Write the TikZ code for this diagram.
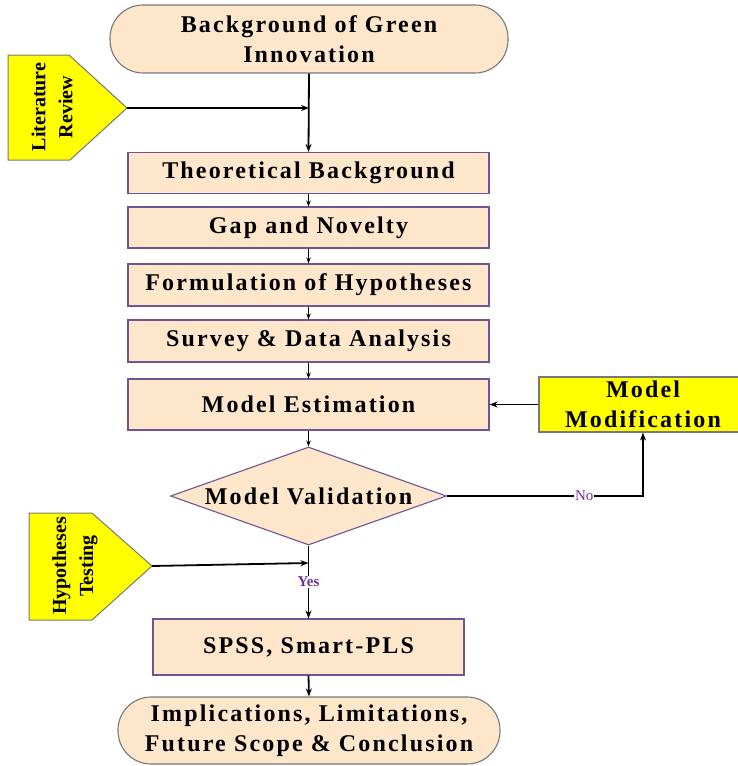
\documentclass[tikz,border=0pt]{standalone}
\usepackage{fontspec}
\setmainfont{Liberation Serif}
\newfontfamily\spacedfont[LetterSpace=9]{Liberation Serif}
\usetikzlibrary{arrows.meta,shapes.geometric}
\definecolor{peach}{RGB}{253,230,202}
\definecolor{boxline}{RGB}{112,84,150}
\definecolor{termline}{RGB}{120,120,120}
\definecolor{yel}{RGB}{255,255,0}
\definecolor{lblpurple}{RGB}{112,48,160}
\tikzset{
  txt/.style={font=\spacedfont\bfseries\fontsize{24}{30}\selectfont, align=center, text=black},
  flowbox/.style={txt, rectangle, draw=boxline, fill=peach, line width=1.1pt, minimum width=361pt, inner sep=0pt},
  term/.style={txt, rectangle, rounded corners=33pt, draw=termline, fill=peach, line width=1.1pt, inner sep=0pt},
  yelbox/.style={txt, rectangle, draw=termline, fill=yel, line width=1.1pt, inner sep=0pt},
  sidetxt/.style={font=\bfseries\fontsize{20}{27}\selectfont, align=center, rotate=90, inner sep=0pt},
  thick line/.style={line width=1.8pt, -{Stealth[length=8pt,width=6pt]}},
  thin line/.style={line width=1.2pt, -{Stealth[length=6pt,width=4.5pt]}},
  lbl/.style={font=\fontsize{15}{16}\selectfont, text=lblpurple, fill=white, inner sep=1pt}
}
\begin{document}
\begin{tikzpicture}[x=1pt,y=-1pt]
\useasboundingbox (0,0) rectangle (738,766);
% terminators
\node[term, minimum width=398pt, minimum height=68pt] (top) at (309,39) {Background of Green\\Innovation};
\node[term, minimum width=382pt, minimum height=67pt] (bot) at (309,730.5) {Implications, Limitations,\\Future Scope \& Conclusion};
% process boxes
\node[flowbox, minimum height=41pt] (theo) at (308.5,173) {Theoretical Background};
\node[flowbox, minimum height=41pt] (gap) at (308.5,227.5) {Gap and Novelty};
\node[flowbox, minimum height=42pt] (form) at (308.5,285) {Formulation of Hypotheses};
\node[flowbox, minimum height=42pt] (surv) at (308.5,341) {Survey \& Data Analysis};
\node[flowbox, minimum height=51pt] (est) at (308.5,404.5) {Model Estimation};
\node[flowbox, minimum width=311pt, minimum height=56pt] (spss) at (308.5,647) {SPSS, Smart-PLS};
% decision
\node[diamond, draw=boxline, fill=peach, line width=1.1pt, minimum width=276pt, minimum height=98pt, inner sep=0pt] (val) at (308.5,496) {};
\node[txt] (valtxt) at (val.center) {Model Validation};
% model modification
\node[yelbox, minimum width=208pt, minimum height=55pt] (mod) at (643,404.5) {Model\\Modification};
% side pentagons
\draw[draw=termline, fill=yel, line width=1pt] (8,55) -- (69,55) -- (127,108) -- (70,160) -- (8,160) -- cycle;
\coordinate (litTip) at (127,108);
\node[sidetxt] (lit) at (52,107) {Literature\\Review};
\draw[draw=termline, fill=yel, line width=1pt] (29,513) -- (92,513) -- (152,566) -- (92,620) -- (29,620) -- cycle;
\coordinate (hypTip) at (152,566);
\node[sidetxt] (hyp) at (75,566) {Hypotheses\\Testing};
% connectors
\draw[thick line] (top.south) -- (theo.north);
\draw[thick line] (litTip) -- (litTip -| top.south);
\draw[thin line] (theo.south) -- (gap.north);
\draw[thin line] (gap.south) -- (form.north);
\draw[thin line] (form.south) -- (surv.north);
\draw[thin line] (surv.south) -- (est.north);
\draw[thin line] (est.south) -- (val.north);
\draw[thick line] (mod.west) -- (est.east);
\draw[thick line] (val.east) -- (mod.south |- val.east) node[lbl, pos=0.7] (no) {No} -- (mod.south);
\coordinate (hypEnd) at (308.5,563);
\draw[thick line] (hypTip) -- (hypEnd);
\draw[thick line] (val.south) -- (spss.north) node[lbl, pos=0.5, font=\bfseries\fontsize{15}{16}\selectfont] (yes) {Yes};
\draw[thick line] (spss.south) -- (bot.north);
\end{tikzpicture}
\end{document}
